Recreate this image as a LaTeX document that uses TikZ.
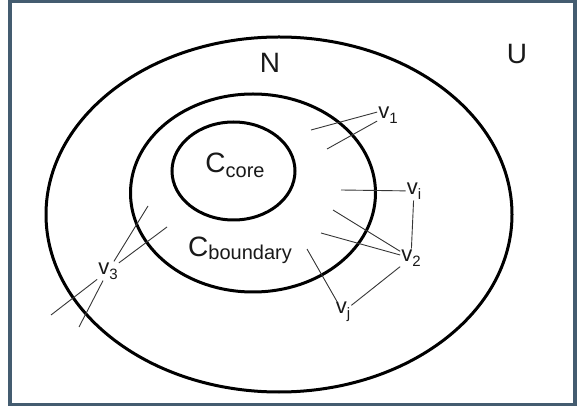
\documentclass[tikz,border=0pt]{standalone}
\usepackage{fontspec}
\setmainfont{Liberation Sans}
\definecolor{framec}{RGB}{68,92,112}
\definecolor{inkc}{RGB}{25,25,25}
\definecolor{thinc}{RGB}{55,55,55}
\newcommand{\bigfont}{\fontsize{28}{30}\selectfont}
\newcommand{\vfont}{\fontsize{22}{24}\selectfont}
\newcommand{\subfont}{\fontsize{15}{16}\selectfont}
\newcommand{\csub}{\fontsize{20}{22}\selectfont}
\newcommand{\vlab}[1]{v\raisebox{-5pt}{\subfont #1}}
\begin{document}
\begin{tikzpicture}[x=1pt,y=-1pt,
  setline/.style={line width=3pt, draw=black},
  lab/.style={inner sep=1pt, text=inkc, font=\vfont},
  biglab/.style={inner sep=0pt, text=inkc, font=\bigfont},
  link/.style={line width=0.9pt, draw=thinc}]
\useasboundingbox (0,0) rectangle (578,411);
\fill[white] (0,0) rectangle (578,411);
\draw[framec, line width=3.5pt] (10,1.5) rectangle (575,404.5);

% sets
\draw[setline] (279,214.5) ellipse [x radius=233pt, y radius=177.5pt];
\draw[setline] (253,193) ellipse [x radius=122.5pt, y radius=99pt];
\draw[setline] (233.5,171) ellipse [x radius=61.5pt, y radius=49pt];

% labels
\node[biglab] (N) at (270,62.5) {N};
\node[biglab] (U) at (517,54) {U};
\node[biglab] (core) at (235,165) {C\raisebox{-5pt}{\csub core}};
\node[biglab] (bnd) at (240,250) {C\raisebox{-3pt}{\csub boundary}};

\node[lab] (v1) at (388,115) {\vlab{1}};
\node[lab] (vi) at (414,191) {\vlab{i}};
\node[lab] (v2) at (411,258) {\vlab{2}};
\node[lab] (vj) at (343,312) {\vlab{j}};
\node[lab] (v3) at (108,271) {\vlab{3}};

% free ends
\coordinate (a1) at (311,130);
\coordinate (a2) at (327,149);
\coordinate (b) at (341,190);
\coordinate (c1) at (333,210);
\coordinate (c2) at (321,233);
\coordinate (d) at (307,249);
\coordinate (e1) at (148,206);
\coordinate (e2) at (167,227);
\coordinate (e3) at (79,327);
\coordinate (e4) at (51,315);

% connectors
\draw[link] (v1.165) -- (a1);
\draw[link] (v1) -- (a2);
\draw[link] (vi) -- (b);
\draw[link] (vi) -- (v2);
\draw[link] (v2) -- (c1);
\draw[link] (v2) -- (c2);
\draw[link] (v2) -- (vj);
\draw[link] (vj) -- (d);
\draw[link] (v3) -- (e1);
\draw[link] (v3) -- (e2);
\draw[link] (v3) -- (e3);
\draw[link] (v3) -- (e4);
\end{tikzpicture}
\end{document}
